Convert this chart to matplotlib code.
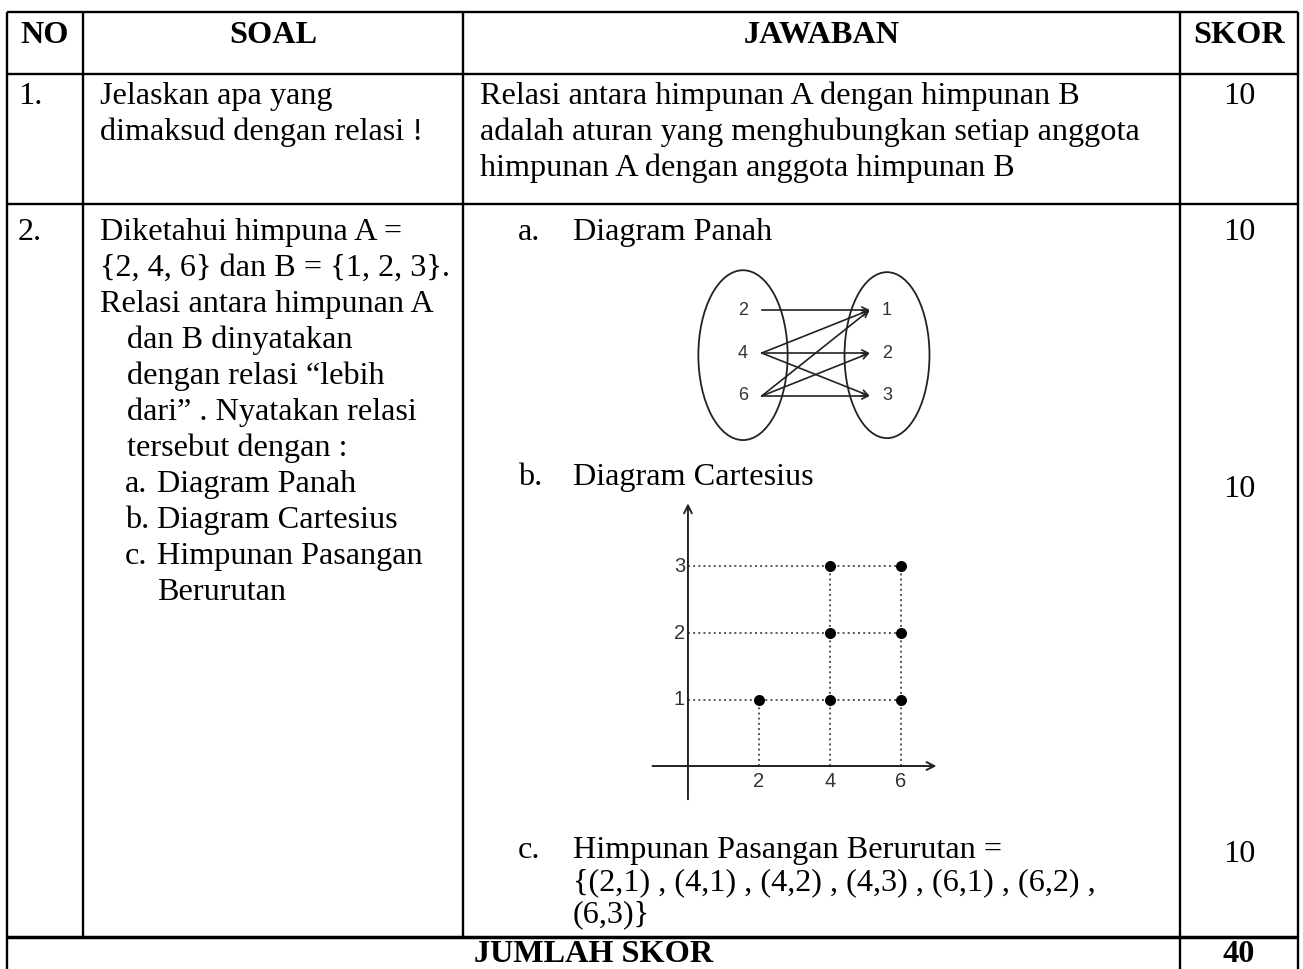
import numpy as np
import matplotlib.pyplot as plt
from matplotlib.patches import Ellipse

# isi tabel
headers = ['NO', 'SOAL', 'JAWABAN', 'SKOR']
nomor = ['1.', '2.']
soal_1 = ['Jelaskan apa yang', 'dimaksud dengan relasi !']
jawab_1 = ['Relasi antara himpunan A dengan himpunan B',
           'adalah aturan yang menghubungkan setiap anggota',
           'himpunan A dengan anggota himpunan B']
soal_2 = ['Diketahui himpuna A =', '{2, 4, 6} dan B = {1, 2, 3}.', 'Relasi antara himpunan A']
soal_2_indent = ['dan B dinyatakan', 'dengan relasi \u201clebih', 'dari\u201d . Nyatakan relasi',
                 'tersebut dengan :']
soal_2_items = [('a.', 'Diagram Panah'), ('b.', 'Diagram Cartesius'),
                ('c.', 'Himpunan Pasangan'), ('', 'Berurutan')]
jawab_2_items = [('a.', 'Diagram Panah'), ('b.', 'Diagram Cartesius'),
                 ('c.', 'Himpunan Pasangan Berurutan =')]
skor = [10, 10, 10, 10]
total_label = 'JUMLAH SKOR'

# data relasi
set_a = [2, 4, 6]
set_b = [1, 2, 3]
pairs = [(2, 1), (4, 1), (4, 2), (4, 3), (6, 1), (6, 2), (6, 3)]

W, H = 1303, 969
SERIF = 'Liberation Serif'
FS = 23.2
LS = 36   # jarak baris (px)

fig = plt.figure(figsize=(W / 100, H / 100), dpi=100)
ax = fig.add_axes([0, 0, 1, 1])
ax.set_xlim(0, W)
ax.set_ylim(H, 0)
ax.axis('off')


def txt(x, y, s, ha='left', bold=False):
    ax.text(x, y, s, ha=ha, va='baseline', fontsize=FS, family=SERIF,
            fontweight='bold' if bold else 'normal', color='black')


# garis tabel
col_x = [7, 83, 463, 1180, 1298]
row_y = [12, 74, 204, 937]
lw = 1.7
ax.hlines(row_y[:3], col_x[0], col_x[-1], color='black', lw=lw)
ax.hlines(row_y[3], col_x[0], col_x[-1], color='black', lw=2.5)
for x in col_x[1:3]:
    ax.vlines(x, row_y[0], row_y[3], color='black', lw=lw)
for x in [col_x[0], col_x[3], col_x[4]]:
    ax.vlines(x, row_y[0], H, color='black', lw=lw)

# header
for i, h in enumerate(headers):
    txt((col_x[i] + col_x[i + 1]) / 2, 43, h, ha='center', bold=True)

# baris 1
txt(18, 104, nomor[0])
for k, s in enumerate(soal_1):
    txt(100, 104 + k * LS, s)
for k, s in enumerate(jawab_1):
    txt(480, 104 + k * LS, s)
skor_x = (col_x[3] + col_x[4]) / 2
txt(skor_x, 104, str(skor[0]), ha='center')

# baris 2 - soal
y0 = 240
txt(18, y0, nomor[1])
lines = 0
for s in soal_2:
    txt(100, y0 + lines * LS, s)
    lines += 1
for s in soal_2_indent:
    txt(127, y0 + lines * LS, s)
    lines += 1
for lab, s in soal_2_items:
    if lab:
        txt(125, y0 + lines * LS, lab)
    txt(157, y0 + lines * LS, s)
    lines += 1

# baris 2 - jawaban
jaw_y = [240, 485, 858]
for (lab, s), yy in zip(jawab_2_items, jaw_y):
    txt(518, yy, lab)
    txt(573, yy, s)
pair_txt = ['(%d,%d)' % p for p in pairs]
txt(573, 890, '{' + ' , '.join(pair_txt[:-1]) + ' ,')
txt(573, 922, pair_txt[-1] + '}')

for s, yy in zip(skor[1:], [240, 497, 862]):
    txt(skor_x, yy, str(s), ha='center')

# jumlah
txt((col_x[0] + col_x[3]) / 2, 962, total_label, ha='center', bold=True)
txt(skor_x, 962, str(sum(skor)), ha='center', bold=True)


def inset(x0, x1, y0, y1):
    return fig.add_axes([x0 / W, 1 - y1 / H, (x1 - x0) / W, (y1 - y0) / H])


# diagram panah
axp = inset(690, 950, 260, 450)
axp.set_xlim(-0.368, 1.4375)
axp.set_ylim(3.256, -1.163)
axp.axis('off')
axp.add_patch(Ellipse((0, 1.05), 0.62, 3.95, fill=False, ec='#222222', lw=1.3))
axp.add_patch(Ellipse((1, 1.05), 0.59, 3.86, fill=False, ec='#222222', lw=1.3))
for i, a in enumerate(set_a):
    axp.text(0, i, str(a), ha='center', va='center', fontsize=13,
             family='Liberation Sans', color='#333333')
for j, b in enumerate(set_b):
    axp.text(1, j, str(b), ha='center', va='center', fontsize=13,
             family='Liberation Sans', color='#333333')
for a, b in pairs:
    ia, jb = set_a.index(a), set_b.index(b)
    axp.annotate('', xy=(0.88, jb), xytext=(0.13, ia),
                 arrowprops=dict(arrowstyle='->', color='#222222', lw=1.2,
                                 shrinkA=0, shrinkB=0, mutation_scale=11))

# diagram cartesius
axc = inset(645, 945, 495, 805)
axc.set_xlim(-1.21, 7.24)
axc.set_ylim(-0.586, 4.075)
axc.axis('off')
axc.annotate('', xy=(7.0, 0), xytext=(-1.0, 0),
             arrowprops=dict(arrowstyle='->', color='#222222', lw=1.4,
                             shrinkA=0, shrinkB=0, mutation_scale=14))
axc.annotate('', xy=(0, 3.95), xytext=(0, -0.5),
             arrowprops=dict(arrowstyle='->', color='#222222', lw=1.4,
                             shrinkA=0, shrinkB=0, mutation_scale=14))
for b in set_b:
    xmax = max(p[0] for p in pairs if p[1] == b)
    axc.plot([0, xmax], [b, b], ls=':', color='#555555', lw=1.4)
    axc.text(-0.08, b, str(b), ha='right', va='center', fontsize=14.5,
             family='Liberation Sans', color='#333333')
for a in set_a:
    ymax = max(p[1] for p in pairs if p[0] == a)
    axc.plot([a, a], [0, ymax], ls=':', color='#555555', lw=1.4)
    axc.text(a, -0.24, str(a), ha='center', va='center', fontsize=14.5,
             family='Liberation Sans', color='#333333')
px, py = zip(*pairs)
axc.scatter(px, py, s=48, color='black', zorder=3)

fig.savefig('out.png', dpi=100)
